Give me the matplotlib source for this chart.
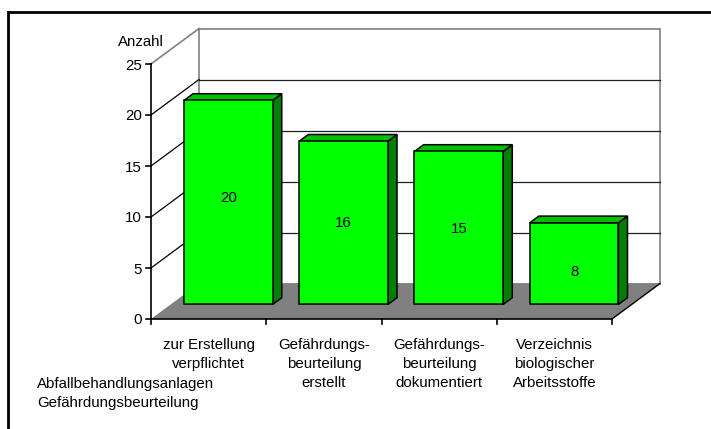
import matplotlib
matplotlib.use('Agg')
import matplotlib.pyplot as plt
from matplotlib.patches import Polygon

# ---- data ----
categories = ["zur Erstellung\nverpflichtet",
              "Gefährdungs-\nbeurteilung\nerstellt",
              "Gefährdungs-\nbeurteilung\ndokumentiert",
              "Verzeichnis\nbiologischer\nArbeitsstoffe"]
values = [20, 16, 15, 8]
y_ticks = [0, 5, 10, 15, 20, 25]
y_label = "Anzahl"
legend_lines = ["Abfallbehandlungsanlagen", "Gefährdungsbeurteilung"]

# ---- layout (pixel projection of a 3D Excel-style chart) ----
W, H = 711, 429
X0, Y0 = 151, 319          # front-left origin of the plot (value 0)
CW = 115.25                # width of one category in px
VS = 10.2                  # px per value unit
DX, DY = 48, -35.5         # full depth offset
GAP = 0.3                  # gap width
D_FRONT, D_BACK = 0.41, 0.60
VMAX = y_ticks[-1]
N = len(values)

FONT = 'Liberation Sans'
FS = 10.8
LS = 1.46


def P(c, v, d):
    return (X0 + c * CW + d * DX, Y0 - v * VS + d * DY)


fig = plt.figure(figsize=(W / 100, H / 100), dpi=100)
ax = fig.add_axes([0, 0, 1, 1])
ax.set_xlim(0, W)
ax.set_ylim(H, 0)
ax.axis('off')

# outer chart border (cut off at right/bottom)
ax.plot([8, W + 5], [12, 12], color='black', lw=2, solid_capstyle='projecting')
ax.plot([8, 8], [12, H + 5], color='black', lw=2, solid_capstyle='projecting')

# back wall
bw = [P(0, 0, 1), P(N, 0, 1), P(N, VMAX, 1), P(0, VMAX, 1)]
ax.add_patch(Polygon(bw, closed=True, facecolor='white', edgecolor='#808080', lw=1.2, zorder=1))
# left wall top edge
ax.plot(*zip(P(0, VMAX, 0), P(0, VMAX, 1)), color='#808080', lw=1.2, zorder=1)

# gridlines on back wall and left wall
for t in y_ticks[1:-1]:
    ax.plot(*zip(P(0, t, 1), P(N, t, 1)), color='#202020', lw=0.9, zorder=1.5)
    ax.plot(*zip(P(0, t, 0), P(0, t, 1)), color='black', lw=0.9, zorder=1.5)

# floor
fl = [P(0, 0, 0), P(N, 0, 0), P(N, 0, 1), P(0, 0, 1)]
ax.add_patch(Polygon(fl, closed=True, facecolor='#808080', edgecolor='none', zorder=2))
ax.plot(*zip(P(N, 0, 0), P(N, 0, 1)), color='black', lw=1, zorder=2.5)

# axes
ax.plot(*zip(P(0, 0, 0), P(0, VMAX, 0)), color='black', lw=1.2, zorder=6)
ax.plot(*zip(P(0, 0, 0), P(N, 0, 0)), color='black', lw=1.2, zorder=6)
for t in y_ticks:
    x, y = P(0, t, 0)
    ax.plot([x - 5, x], [y, y], color='black', lw=1.2, zorder=6)
    ax.text(x - 9, y, str(t), ha='right', va='center_baseline',
            fontsize=FS, family=FONT, zorder=7)
for i in range(N + 1):
    x, y = P(i, 0, 0)
    ax.plot([x, x], [y, y + 5], color='black', lw=1.2, zorder=6)

# y-axis title
xa, ya = P(0, VMAX, 0)
ax.text(xa + 13, ya - 23, y_label, ha='right', va='center_baseline',
        fontsize=FS, family=FONT)

# bars
bw_half = 0.5 / (1 + GAP)
for i, v in enumerate(values):
    cl, cr = i + 0.5 - bw_half, i + 0.5 + bw_half
    front = [P(cl, 0, D_FRONT), P(cr, 0, D_FRONT), P(cr, v, D_FRONT), P(cl, v, D_FRONT)]
    top = [P(cl, v, D_FRONT), P(cr, v, D_FRONT), P(cr, v, D_BACK), P(cl, v, D_BACK)]
    side = [P(cr, 0, D_FRONT), P(cr, v, D_FRONT), P(cr, v, D_BACK), P(cr, 0, D_BACK)]
    for poly, col in ((side, '#008000'), (top, '#00C000'), (front, '#00FF00')):
        ax.add_patch(Polygon(poly, closed=True, facecolor=col, edgecolor='black',
                             lw=1.1, joinstyle='miter', zorder=3 + i * 0.1))
    lx, _ = P(i + 0.5, 0, D_FRONT)
    _, ly = P(i + 0.5, v * 0.6, 0)
    ax.text(lx, ly, str(v), ha='center', va='center_baseline', fontsize=FS,
            family=FONT, zorder=5)

# category labels
for i, lab in enumerate(categories):
    x, y = P(i + 0.5, 0, 0)
    ax.text(x, y + 19, lab, ha='center', va='top', fontsize=FS, family=FONT,
            linespacing=LS)

# legend / note lines
ax.text(37, 377, "\n".join(legend_lines), ha='left', va='top', fontsize=FS,
        family=FONT, linespacing=LS)

fig.savefig('out.png', dpi=100)
